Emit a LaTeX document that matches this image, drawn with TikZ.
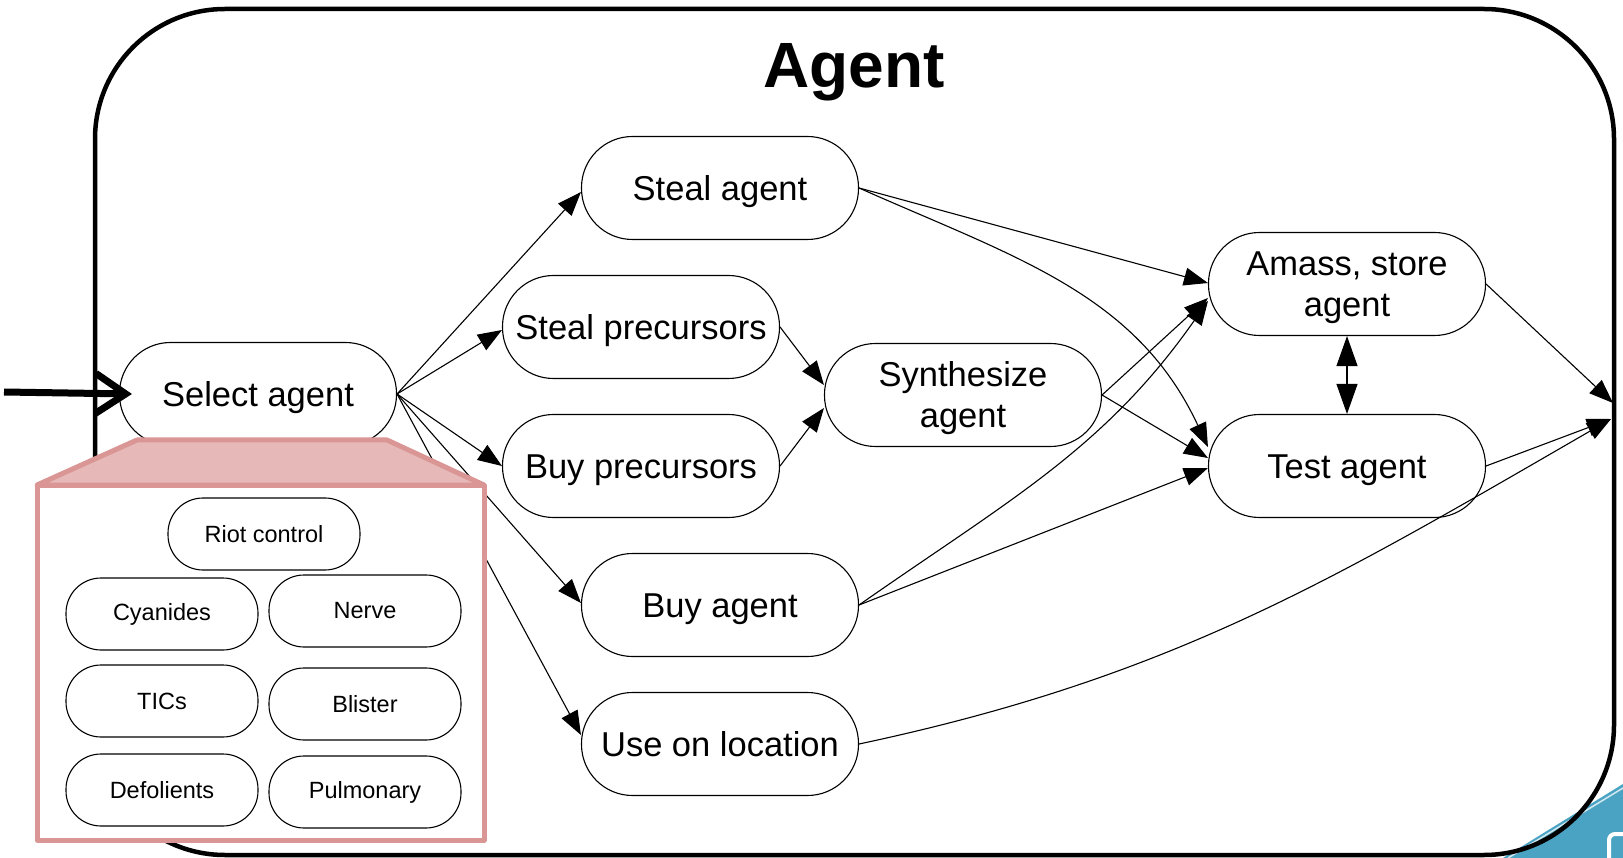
\documentclass[tikz,border=0pt]{standalone}
\usepackage{fontspec}
\setmainfont{Liberation Sans}
\usetikzlibrary{arrows.meta}
\definecolor{pinkline}{RGB}{217,150,148}
\definecolor{pinkfill}{RGB}{230,185,184}
\definecolor{logoblue}{RGB}{75,163,196}
\tikzset{
  proc/.style={draw, line width=1.1pt, rounded corners=51pt, minimum width=277pt, minimum height=103pt,
    inner sep=0pt, align=center, font=\fontsize{34.5}{41.4}\selectfont, fill=white},
  oneline/.style={text height=32pt, text depth=7.2pt},
  twoline/.style={text height=73pt, text depth=7.2pt},
  small/.style={draw, line width=1.1pt, rounded corners=35pt, minimum width=192pt, minimum height=72pt,
    inner sep=0pt, font=\fontsize{23.5}{28}\selectfont, fill=white},
  conn/.style={line width=1.1pt, -{Triangle[length=24pt,width=18pt]}},
}
\begin{document}
\begin{tikzpicture}[x=1pt,y=1pt]
\useasboundingbox (0,0) rectangle (1623,-858);
\clip (0,0) rectangle (1623,-858);
% logo fragment
\fill[logoblue] (1503,-858) -- (1623,-784) -- (1623,-858) -- cycle;
\draw[color=logoblue!25, line width=1.5pt] (1508,-858) -- (1623,-788);
\draw[white, line width=4pt, rounded corners=6pt] (1609,-862) -- (1609,-834) -- (1628,-834);
% frame
\draw[line width=4.5pt, rounded corners=130pt] (95,-9) rectangle (1614,-855);
\node[anchor=base, font=\fontsize{64}{70}\selectfont\bfseries] (title) at (854,-88) {Agent};
% exit points
\coordinate (exitA) at (1613,-403);
\coordinate (exitB) at (1611,-419);
\coordinate (inp) at (4,-392);
% nodes
\node[proc, oneline] (select) at (258,-394) {Select agent};
\node[proc, oneline] (steal) at (720,-188) {Steal agent};
\node[proc, oneline] (stealp) at (641,-327) {Steal precursors};
\node[proc, oneline] (buyp) at (641,-466) {Buy precursors};
\node[proc, twoline] (synth) at (963,-395) {Synthesize\\agent};
\node[proc, oneline] (buy) at (720,-605) {Buy agent};
\node[proc, oneline] (use) at (720,-744) {Use on location};
\node[proc, twoline] (amass) at (1347,-284) {Amass, store\\agent};
\node[proc, oneline] (test) at (1347,-466) {Test agent};
% connectors
\draw[conn] (select.east) -- ([yshift=-4pt]steal.west);
\draw[conn] (select.east) -- ([yshift=-3pt]stealp.west);
\draw[conn] (select.east) -- (buyp.west);
\draw[conn] (select.east) -- ([yshift=2pt]buy.west);
\draw[conn] (select.east) -- ([yshift=9pt]use.west);
\draw[conn] (stealp.east) -- ([yshift=10pt]synth.west);
\draw[conn] (buyp.east) -- ([yshift=-13pt]synth.west);
\draw[conn] (steal.east) -- ([yshift=1pt]amass.west);
\draw[conn] (steal.east) to[out=-24, in=115] ([yshift=19pt]test.west);
\draw[conn] (synth.east) -- ([yshift=-14pt]amass.west);
\draw[conn] (synth.east) -- ([yshift=8pt]test.west);
\draw[conn] (buy.east) to[out=35, in=-125] ([yshift=-17pt]amass.west);
\draw[conn] (buy.east) -- ([yshift=-2pt]test.west);
\draw[conn] (amass.east) -- (exitA);
\draw[conn] (test.east) -- (exitB);
\draw[conn] (use.east) to[out=12, in=-150] (exitB);
\draw[line width=1.1pt, {Triangle[length=30pt,width=21pt]}-{Triangle[length=30pt,width=21pt]}] (amass.south) -- (test.north);
% pink callout
\draw[pinkline, fill=pinkfill, line width=5pt, line join=round] (137,-440) -- (387,-440) -- (484,-485) -- (37,-485) -- cycle;
\draw[pinkline, fill=white, line width=5pt, line join=round] (37,-485) rectangle (484,-840);
\node[small] (riot) at (264,-534) {Riot control};
\node[small] (cyan) at (162,-614) {Cyanides};
\node[small] (nerve) at (365,-611) {Nerve};
\node[small] (tics) at (162,-701) {TICs};
\node[small] (blister) at (365,-704) {Blister};
\node[small] (defol) at (162,-790) {Defolients};
\node[small] (pulm) at (365,-792) {Pulmonary};
% input arrow
\draw[line width=7pt, -{Straight Barb[length=30pt,width=40pt]}] (inp) -- ([xshift=13pt]select.west);
\end{tikzpicture}
\end{document}
